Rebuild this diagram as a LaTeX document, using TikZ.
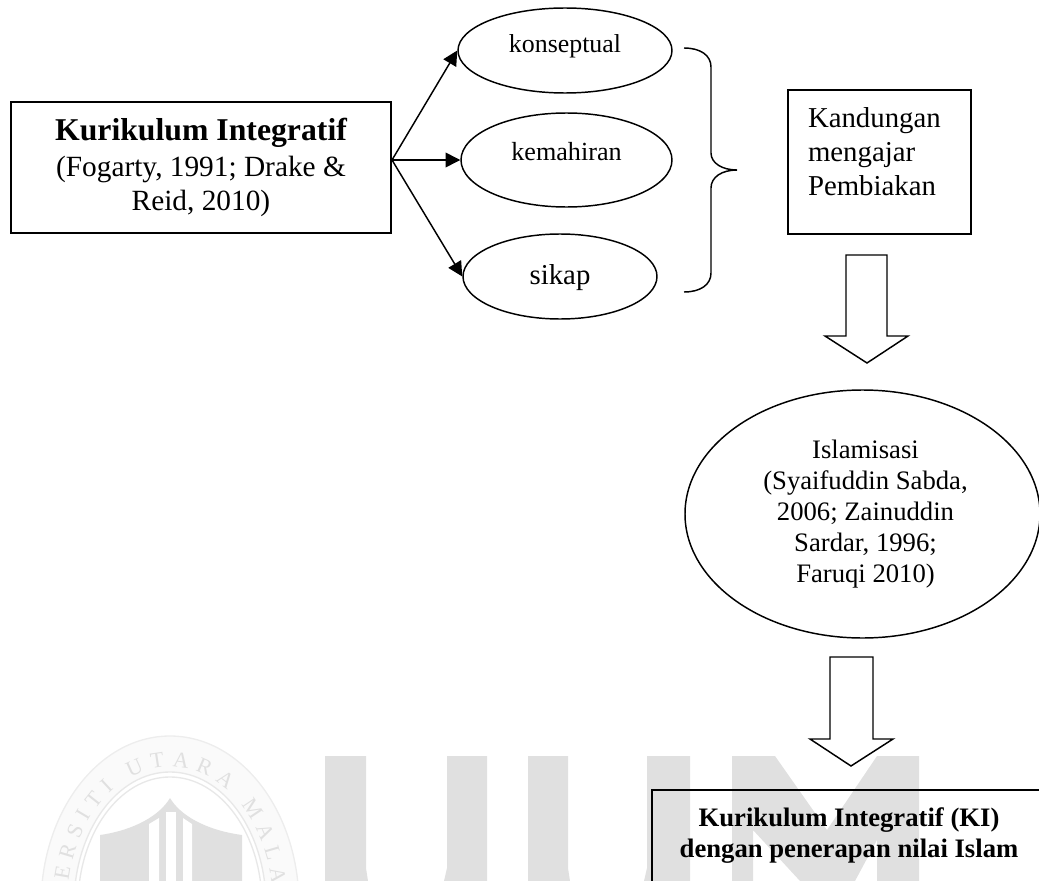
\documentclass[tikz,border=0pt]{standalone}
\usepackage{fontspec}
\setmainfont{Liberation Serif}
\usetikzlibrary{%
		arrows.meta%
		,shapes.geometric%
		,decorations.text%
	}

\tikzset{
	boxline/.style={draw, line width=1.3pt, inner sep=0pt},
	ovalline/.style={draw, ellipse, line width=1.1pt, inner sep=0pt},
	blockarrow/.style={draw, line width=1.1pt, line join=miter},
	forkarrow/.style={line width=1.1pt, -{Triangle[length=11pt,width=11pt]}},
	mark letter/.style={fill=gray!24, draw=none},
}

\begin{document}
\begin{tikzpicture}[x=0.75pt, y=0.75pt]
	\useasboundingbox (0,0) rectangle (1039,-881);
	\clip (0,0) rectangle (1039,-881);

	% Crest
	\draw[gray!14, line width=1pt, fill=gray!4] (41,-905) arc [start angle=180, end angle=0, x radius=129, y radius=169];
	\draw[gray!18, line width=1pt, fill=white] (74,-905) arc [start angle=180, end angle=0, x radius=96, y radius=133];
	\draw[gray!18, line width=1pt] (78,-905) arc [start angle=180, end angle=0, x radius=92, y radius=128];
	\path[postaction={decorate, decoration={text along path, text align={fit to path},
		text={|\fontsize{16.5}{16.5}\selectfont\color{gray!24}|UNIVERSITI UTARA MALAYSIA}}}]
		(76.6,-963.3) arc [start angle=205, end angle=-25, x radius=103, y radius=138];
	\fill[mark letter] (100,-835) .. controls (135,-830) and (160,-815) .. (170,-798) .. controls (180,-815) and (205,-830) .. (242,-835) -- (242,-881) -- (100,-881) -- cycle;
	\fill[white] (149,-824) -- (159,-818) -- (159,-881) -- (149,-881) -- cycle;
	\fill[white] (166,-812) -- (176,-812) -- (176,-881) -- (166,-881) -- cycle;
	\fill[white] (183,-818) -- (192,-824) -- (192,-881) -- (183,-881) -- cycle;

	% UUM
	\fill[mark letter] (325,-756) -- (366,-756) -- (366,-868) -- (368,-881) -- (325,-881) -- cycle;
	\fill[mark letter] (447,-756) -- (487,-756) -- (487,-881) -- (444,-881) -- (447,-868) -- cycle;
	\fill[mark letter] (528,-756) -- (568,-756) -- (568,-868) -- (570,-881) -- (528,-881) -- cycle;
	\fill[mark letter] (647,-756) -- (690,-756) -- (690,-881) -- (644,-881) -- (647,-868) -- cycle;
	\fill[mark letter] (732,-756) -- (775,-756) -- (827,-830) -- (877,-756) -- (919,-756) -- (919,-881) -- (877,-881) -- (877,-840) -- (855,-881) -- (800,-881) -- (753,-830) -- (753,-881) -- (732,-881) -- cycle;

	% Source
	\node[boxline, minimum width=285pt, minimum height=98.25pt, align=center, font=\fontsize{22}{25.5}\selectfont] (kurikulum) at (201,-167.5)
		{{\fontsize{23.8}{27}\selectfont\bfseries Kurikulum Integratif}\\[1.5pt]
		(Fogarty, 1991; Drake \&\\
		Reid, 2010)};
	\coordinate (fork) at (392,-160);

	% Ovals
	\node[ovalline, minimum width=160.5pt, minimum height=63.75pt, text height=3.75pt, text depth=0pt, font=\fontsize{19.4}{23}\selectfont] (konseptual) at (565,-50.5) {konseptual};
	\node[ovalline, minimum width=158.25pt, minimum height=70.5pt, text height=0pt, text depth=0pt, font=\fontsize{19.6}{23}\selectfont] (kemahiran) at (566.5,-160) {kemahiran};
	\node[ovalline, minimum width=145.5pt, minimum height=63.75pt, text height=12pt, text depth=0pt, font=\fontsize{21.6}{25}\selectfont] (sikap) at (560,-276.5) {sikap};

	\draw[forkarrow] (fork) -- (konseptual.west);
	\draw[forkarrow] (fork) -- (kemahiran.west);
	\draw[forkarrow] (fork) -- (sikap.west);

	% Brace
	\draw[line width=1.1pt] (684,-48) .. controls (700,-48) and (711,-55) .. (711,-67) -- (711,-153) .. controls (711,-163) and (722,-170) .. (737,-170)
		.. controls (722,-170) and (711,-177) .. (711,-188) -- (711,-273) .. controls (711,-285) and (700,-292) .. (684,-292);

	% Kandungan
	\node[boxline, minimum width=137.25pt, minimum height=108pt, text width=107.25pt, align=left, font=\fontsize{21.6}{25.5}\selectfont] (kandungan) at (879.5,-162)
		{Kandungan\\mengajar\\Pembiakan\\[-10pt]\mbox{}};

	% First block arrow
	\draw[blockarrow] (846,-255) -- (887,-255) -- (887,-336) -- (908,-336) -- (867,-363) -- (825,-336) -- (846,-336) -- cycle;

	% Islamisasi
	\node[ovalline, minimum width=266.25pt, minimum height=186pt, font=\fontsize{20}{23.25}\selectfont] (islamisasi) at (862.5,-514)
		{\hspace*{4.5pt}\begin{tabular}{@{}c@{}}Islamisasi\\(Syaifuddin Sabda,\\2006; Zainuddin\\Sardar, 1996;\\Faruqi 2010)\end{tabular}};

	% Second block arrow
	\draw[blockarrow] (830,-657) -- (873,-657) -- (873,-739) -- (893,-739) -- (851,-766) -- (810,-739) -- (830,-739) -- cycle;

	% Result
	\node[boxline, minimum width=295.5pt, minimum height=82.5pt, align=center, font=\fontsize{20}{23.25}\selectfont\bfseries] (hasil) at (849,-845)
		{Kurikulum Integratif (KI)\\dengan penerapan nilai Islam\\[-4pt]\mbox{}};
\end{tikzpicture}
\end{document}
